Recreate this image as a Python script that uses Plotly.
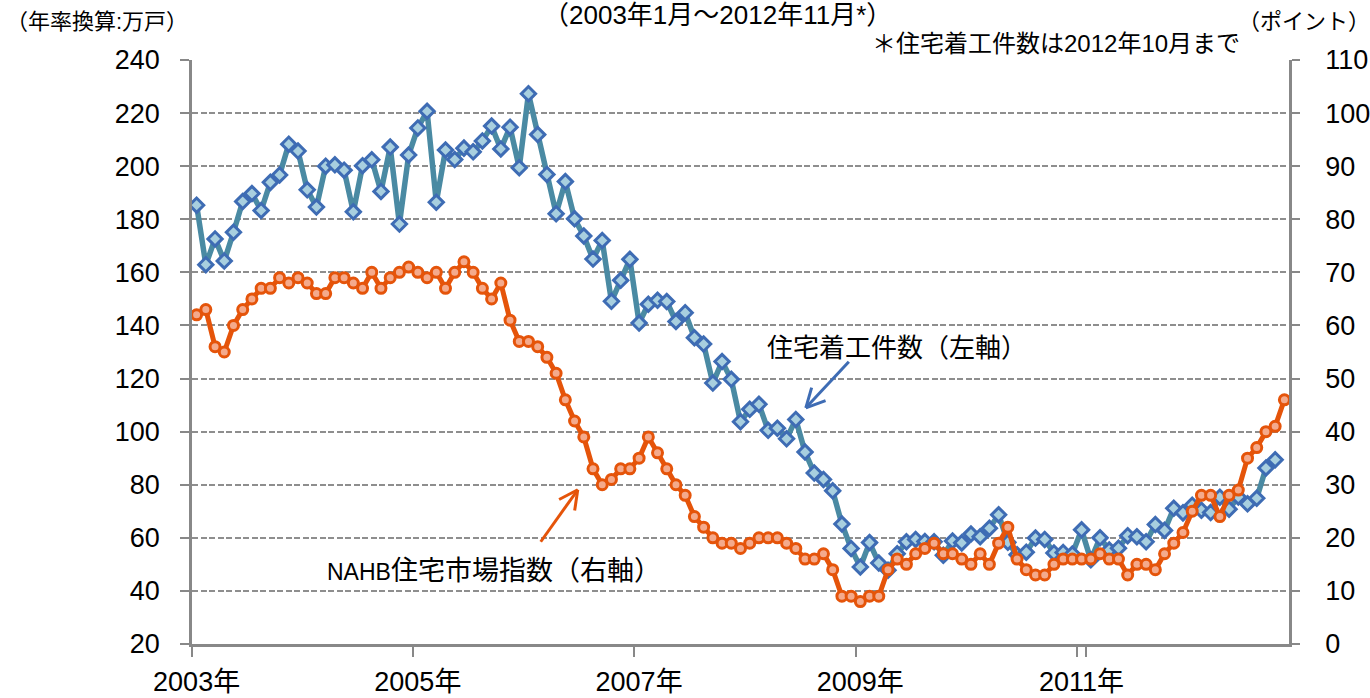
import math
import plotly.graph_objects as go

# ---------------- data ----------------
months = [f"{y}-{m:02d}" for y in range(2003, 2013) for m in range(1, 13)][:119]

# 住宅着工件数 (年率換算, 万戸) 2003年1月～2012年10月
starts = [
    185.3, 162.9, 172.6, 164.3, 175.1, 186.7, 189.7, 183.3, 193.9, 196.7, 208.3, 205.7,
    191.1, 184.6, 200.0, 200.5, 198.5, 182.8, 200.2, 202.4, 190.5, 207.2, 178.2, 204.2,
    214.4, 220.7, 186.4, 206.1, 202.5, 206.8, 205.4, 209.5, 215.1, 206.5, 214.7, 199.4,
    227.3, 211.9, 196.9, 182.1, 194.2, 180.2, 173.7, 165.0, 172.0, 149.1, 157.0, 164.9,
    140.9, 148.0, 149.5, 149.0, 141.5, 144.8, 135.4, 133.0, 118.3, 126.4, 119.7, 103.7,
    108.4, 110.3, 100.5, 101.3, 97.3, 104.6, 92.3, 84.4, 82.0, 77.7, 65.2, 56.0,
    49.0, 58.2, 50.5, 47.8, 54.0, 58.5, 59.4, 58.6, 58.5, 53.4, 58.8, 58.1,
    61.4, 60.4, 63.6, 68.7, 58.3, 53.6, 54.6, 59.9, 59.4, 54.3, 54.5, 53.9,
    63.0, 51.7, 60.0, 55.4, 56.1, 60.8, 60.4, 58.5, 65.0, 62.8, 71.1, 69.4,
    72.3, 70.4, 69.5, 75.3, 70.8, 75.4, 72.8, 74.9, 86.3, 89.4,
]

# NAHB住宅市場指数 (ポイント) 2003年1月～2012年11月
nahb = [
    62, 63, 56, 55, 60, 63, 65, 67, 67, 69, 68, 69,
    68, 66, 66, 69, 69, 68, 67, 70, 67, 69, 70, 71,
    70, 69, 70, 67, 70, 72, 70, 67, 65, 68, 61, 57,
    57, 56, 54, 51, 46, 42, 39, 33, 30, 31, 33, 33,
    35, 39, 36, 33, 30, 28, 24, 22, 20, 19, 19, 18,
    19, 20, 20, 20, 19, 18, 16, 16, 17, 14, 9, 9,
    8, 9, 9, 14, 16, 15, 17, 18, 19, 17, 17, 16,
    15, 17, 15, 19, 22, 16, 14, 13, 13, 15, 16, 16,
    16, 16, 17, 16, 16, 13, 15, 15, 14, 17, 19, 21,
    25, 28, 28, 24, 28, 29, 35, 37, 40, 41, 46,
]

tick_months = ["2003-01", "2005-01", "2007-01", "2009-01", "2011-01"]
tick_labels = ["2003年", "2005年", "2007年", "2009年", "2011年"]
left_ticks = list(range(20, 241, 20))
right_ticks = list(range(0, 111, 10))

# ---------------- style ----------------
W, H = 1370, 698
L, R, T, B = 192.4, 81, 60, 53.7
PW, PH = W - L - R, H - T - B
FONT = "Liberation Sans, Arial, Noto Sans CJK JP, sans-serif"
AXC = "#888888"
BLUE_LINE = "#4A8AA3"
BLUE_EDGE = "#3E6CB4"
BLUE_FILL = "#A8CFDF"
ORANGE = "#E5540A"
ORANGE_FILL = "#F4AA8C"

fig = go.Figure()
fig.add_trace(go.Scatter(
    x=months[:len(starts)], y=starts, mode="lines+markers", name="住宅着工件数",
    line=dict(color=BLUE_LINE, width=5.5),
    marker=dict(symbol="diamond", size=11, color=BLUE_FILL, line=dict(color=BLUE_EDGE, width=3)),
    yaxis="y", showlegend=False,
))
fig.add_trace(go.Scatter(
    x=months, y=nahb, mode="lines+markers", name="NAHB住宅市場指数",
    line=dict(color=ORANGE, width=5),
    marker=dict(symbol="circle", size=10, color=ORANGE_FILL, line=dict(color=ORANGE, width=3)),
    yaxis="y2", showlegend=False,
))

fig.update_layout(
    width=W, height=H, autosize=False,
    margin=dict(l=L, r=R, t=T, b=B, pad=0, autoexpand=False),
    paper_bgcolor="white", plot_bgcolor="white",
    font=dict(family=FONT, color="black", size=27),
    xaxis=dict(
        type="category", categoryorder="array", categoryarray=months,
        range=[-0.5, len(months) - 0.5], automargin=False, tickangle=0,
        tickmode="array", tickvals=tick_months, ticktext=tick_labels, tickson="boundaries",
        showgrid=False, showline=True, linecolor=AXC, linewidth=2.5,
        ticks="outside", ticklen=10, tickwidth=2, tickcolor=AXC,
        tickfont=dict(size=27), ticklabelstandoff=12, zeroline=False,
    ),
    yaxis=dict(
        range=[20, 240], tickmode="array", tickvals=left_ticks, automargin=False,
        showgrid=True, gridcolor="#8E8E8E", gridwidth=1.6, griddash="6px,2.5px",
        showline=True, linecolor=AXC, linewidth=2.5,
        ticks="outside", ticklen=9, tickwidth=2, tickcolor=AXC,
        tickfont=dict(size=27), ticklabelstandoff=15, zeroline=False,
    ),
    yaxis2=dict(
        range=[0, 110], tickmode="array", tickvals=right_ticks, overlaying="y", side="right",
        automargin=False,
        showgrid=False, showline=True, linecolor=AXC, linewidth=2.5,
        ticks="outside", ticklen=8, tickwidth=2, tickcolor=AXC,
        tickfont=dict(size=27), ticklabelstandoff=20, zeroline=False,
    ),
)

def px_to_paper(px, py):
    return (px - L) / PW, (H - B - py) / PH

annotations = []
def text(px, py, s, size, xanchor="center"):
    x, y = px_to_paper(px, py)
    annotations.append(dict(x=x, y=y, xref="paper", yref="paper", text=s, showarrow=False,
                            xanchor=xanchor, yanchor="middle", font=dict(size=size, family=FONT)))

text(718, 15, "（2003年1月～2012年11月*）", 26)
text(4, 21, "（年率換算:万戸）", 22, "left")
text(1372, 21, "（ポイント）", 22, "right")
text(1242, 43, "＊住宅着工件数は2012年10月まで", 24, "right")
text(897, 348, "住宅着工件数（左軸）", 26)
text(494, 571, "<span style='font-size:23px'>NAHB</span>住宅市場指数（右軸）", 27)
fig.update_layout(annotations=annotations)

shapes = []
def arrow(tail, tip, color, wing=21, ang=27):
    x0, y0 = px_to_paper(*tail)
    x1, y1 = px_to_paper(*tip)
    shapes.append(dict(type="line", xref="paper", yref="paper", x0=x0, y0=y0, x1=x1, y1=y1,
                       line=dict(color=color, width=3)))
    bx, by = tail[0] - tip[0], tail[1] - tip[1]
    base = math.atan2(by, bx)
    for s in (-1, 1):
        a = base + s * math.radians(ang)
        ex, ey = tip[0] + wing * math.cos(a), tip[1] + wing * math.sin(a)
        wx, wy = px_to_paper(ex, ey)
        shapes.append(dict(type="line", xref="paper", yref="paper", x0=x1, y0=y1, x1=wx, y1=wy,
                           line=dict(color=color, width=3)))

arrow((849, 362), (806, 408), "#3E6CB4")
arrow((541, 542), (578, 490), ORANGE)
fig.update_layout(shapes=shapes)

fig.write_html("out.html", config={"displayModeBar": False},
               post_script="document.body.style.margin='0';document.body.style.overflow='hidden';")
